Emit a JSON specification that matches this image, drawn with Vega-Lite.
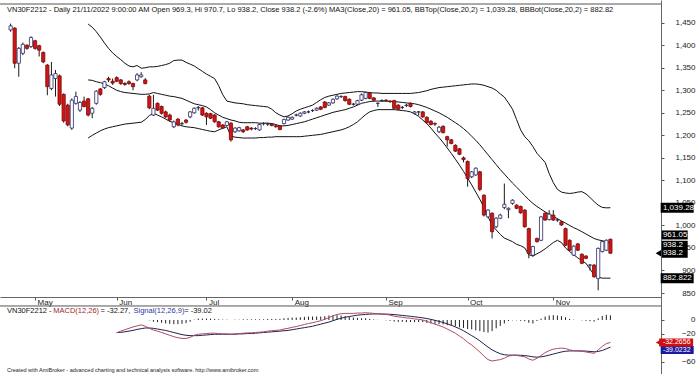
{
"$schema":"https://vega.github.io/schema/vega-lite/v6.json",
"width":661,"height":374,
"autosize":{"type":"none"},
"padding":{"left":0,"top":0,"right":39,"bottom":0},
"background":"white",
"config":{"view":{"stroke":null},"font":"Liberation Sans",
 "axis":{"labelFont":"Liberation Sans","labelFontSize":8,"labelColor":"#222222","tickColor":"#555555","tickSize":3,"domainColor":"#666666","grid":false,"labelOverlap":false,"labelFlush":false,"labelBound":false},
 "axisBottom":{"labelAlign":"left","labelBaseline":"top","labelOffset":2,"labelPadding":-2},
 "axisRight":{"labelAlign":"right","labelBaseline":"middle","labelPadding":31}},
"datasets":{
"ohlc":[
{"i":0,"o":1434,"h":1448,"l":1430,"c":1443},{"i":1,"o":1438,"h":1440,"l":1349,"c":1360},{"i":2,"o":1360,"h":1396,"l":1330,"c":1393},{"i":3,"o":1382,"h":1406,"l":1378,"c":1402},{"i":4,"o":1400,"h":1402,"l":1390,"c":1393},{"i":5,"o":1397,"h":1420,"l":1394,"c":1417},{"i":6,"o":1410,"h":1412,"l":1390,"c":1393},{"i":7,"o":1399,"h":1401,"l":1375,"c":1389},{"i":8,"o":1384,"h":1386,"l":1360,"c":1363},{"i":9,"o":1356,"h":1358,"l":1289,"c":1308},
{"i":10,"o":1304,"h":1363,"l":1300,"c":1334},{"i":11,"o":1326,"h":1345,"l":1286,"c":1337},{"i":12,"o":1332,"h":1335,"l":1265,"c":1269},{"i":13,"o":1291,"h":1293,"l":1228,"c":1232},{"i":14,"o":1267,"h":1270,"l":1220,"c":1223},{"i":15,"o":1216,"h":1282,"l":1212,"c":1278},{"i":16,"o":1271,"h":1297,"l":1268,"c":1286},{"i":17,"o":1256,"h":1276,"l":1252,"c":1273},{"i":18,"o":1276,"h":1286,"l":1262,"c":1264},{"i":19,"o":1281,"h":1283,"l":1242,"c":1245},
{"i":20,"o":1249,"h":1263,"l":1238,"c":1260},{"i":21,"o":1271,"h":1300,"l":1268,"c":1298},{"i":22,"o":1303,"h":1305,"l":1288,"c":1291},{"i":23,"o":1306,"h":1321,"l":1303,"c":1319},{"i":24,"o":1326,"h":1330,"l":1318,"c":1323},{"i":25,"o":1320,"h":1326,"l":1312,"c":1316},{"i":26,"o":1328,"h":1331,"l":1318,"c":1320},{"i":27,"o":1323,"h":1325,"l":1312,"c":1315},{"i":28,"o":1315,"h":1318,"l":1310,"c":1313},{"i":29,"o":1319,"h":1322,"l":1312,"c":1315},
{"i":30,"o":1315,"h":1317,"l":1300,"c":1308},{"i":31,"o":1323,"h":1338,"l":1320,"c":1334},{"i":32,"o":1330,"h":1340,"l":1328,"c":1334},{"i":33,"o":1323,"h":1327,"l":1313,"c":1315},{"i":34,"o":1287,"h":1290,"l":1258,"c":1261},{"i":35,"o":1245,"h":1290,"l":1243,"c":1260},{"i":36,"o":1271,"h":1273,"l":1254,"c":1256},{"i":37,"o":1264,"h":1266,"l":1246,"c":1249},{"i":38,"o":1252,"h":1255,"l":1238,"c":1241},{"i":39,"o":1245,"h":1248,"l":1231,"c":1234},
{"i":40,"o":1219,"h":1233,"l":1216,"c":1230},{"i":41,"o":1236,"h":1238,"l":1220,"c":1223},{"i":42,"o":1226,"h":1230,"l":1222,"c":1226},{"i":43,"o":1234,"h":1236,"l":1226,"c":1229},{"i":44,"o":1241,"h":1254,"l":1238,"c":1252},{"i":45,"o":1250,"h":1262,"l":1248,"c":1260},{"i":46,"o":1261,"h":1265,"l":1255,"c":1262},{"i":47,"o":1261,"h":1263,"l":1243,"c":1245},{"i":48,"o":1249,"h":1251,"l":1223,"c":1241},{"i":49,"o":1248,"h":1250,"l":1236,"c":1238},
{"i":50,"o":1245,"h":1247,"l":1228,"c":1230},{"i":51,"o":1230,"h":1232,"l":1217,"c":1219},{"i":52,"o":1223,"h":1225,"l":1214,"c":1216},{"i":53,"o":1222,"h":1232,"l":1220,"c":1230},{"i":54,"o":1227,"h":1229,"l":1186,"c":1190},{"i":55,"o":1208,"h":1218,"l":1205,"c":1216},{"i":56,"o":1210,"h":1219,"l":1208,"c":1217},{"i":57,"o":1212,"h":1214,"l":1205,"c":1208},{"i":58,"o":1219,"h":1221,"l":1210,"c":1212},{"i":59,"o":1216,"h":1218,"l":1211,"c":1214},
{"i":60,"o":1215,"h":1218,"l":1212,"c":1215},{"i":61,"o":1212,"h":1226,"l":1210,"c":1224},{"i":62,"o":1226,"h":1229,"l":1222,"c":1226},{"i":63,"o":1225,"h":1228,"l":1221,"c":1225},{"i":64,"o":1225,"h":1227,"l":1220,"c":1222},{"i":65,"o":1221,"h":1223,"l":1217,"c":1219},{"i":66,"o":1221,"h":1223,"l":1211,"c":1213},{"i":67,"o":1226,"h":1237,"l":1224,"c":1235},{"i":68,"o":1234,"h":1242,"l":1232,"c":1240},{"i":69,"o":1236,"h":1242,"l":1234,"c":1240},
{"i":70,"o":1245,"h":1248,"l":1242,"c":1245},{"i":71,"o":1243,"h":1251,"l":1241,"c":1249},{"i":72,"o":1249,"h":1254,"l":1247,"c":1252},{"i":73,"o":1252,"h":1255,"l":1249,"c":1252},{"i":74,"o":1255,"h":1258,"l":1252,"c":1255},{"i":75,"o":1256,"h":1262,"l":1254,"c":1260},{"i":76,"o":1263,"h":1265,"l":1256,"c":1258},{"i":77,"o":1274,"h":1276,"l":1260,"c":1262},{"i":78,"o":1267,"h":1274,"l":1265,"c":1272},{"i":79,"o":1272,"h":1282,"l":1270,"c":1280},
{"i":80,"o":1281,"h":1289,"l":1279,"c":1287},{"i":81,"o":1286,"h":1289,"l":1283,"c":1286},{"i":82,"o":1286,"h":1288,"l":1275,"c":1277},{"i":83,"o":1280,"h":1282,"l":1267,"c":1269},{"i":84,"o":1269,"h":1272,"l":1266,"c":1269},{"i":85,"o":1269,"h":1279,"l":1267,"c":1277},{"i":86,"o":1278,"h":1293,"l":1276,"c":1290},{"i":87,"o":1282,"h":1297,"l":1280,"c":1295},{"i":88,"o":1293,"h":1295,"l":1280,"c":1282},{"i":89,"o":1283,"h":1285,"l":1275,"c":1278},
{"i":90,"o":1271,"h":1273,"l":1263,"c":1271},{"i":91,"o":1277,"h":1280,"l":1274,"c":1277},{"i":92,"o":1278,"h":1280,"l":1275,"c":1277},{"i":93,"o":1276,"h":1278,"l":1272,"c":1275},{"i":94,"o":1277,"h":1279,"l":1258,"c":1260},{"i":95,"o":1267,"h":1269,"l":1256,"c":1258},{"i":96,"o":1262,"h":1265,"l":1258,"c":1262},{"i":97,"o":1266,"h":1270,"l":1263,"c":1267},{"i":98,"o":1271,"h":1273,"l":1262,"c":1264},{"i":99,"o":1249,"h":1254,"l":1246,"c":1252},
{"i":100,"o":1252,"h":1254,"l":1244,"c":1252},{"i":101,"o":1252,"h":1254,"l":1239,"c":1241},{"i":102,"o":1240,"h":1242,"l":1226,"c":1228},{"i":103,"o":1231,"h":1234,"l":1222,"c":1224},{"i":104,"o":1226,"h":1229,"l":1221,"c":1225},{"i":105,"o":1208,"h":1221,"l":1205,"c":1218},{"i":106,"o":1220,"h":1222,"l":1204,"c":1206},{"i":107,"o":1197,"h":1199,"l":1175,"c":1190},{"i":108,"o":1190,"h":1192,"l":1180,"c":1182},{"i":109,"o":1178,"h":1180,"l":1163,"c":1165},
{"i":110,"o":1170,"h":1172,"l":1156,"c":1158},{"i":111,"o":1150,"h":1153,"l":1140,"c":1146},{"i":112,"o":1142,"h":1144,"l":1086,"c":1104},{"i":113,"o":1108,"h":1121,"l":1105,"c":1119},{"i":114,"o":1112,"h":1129,"l":1110,"c":1127},{"i":115,"o":1119,"h":1121,"l":1076,"c":1080},{"i":116,"o":1067,"h":1069,"l":1020,"c":1023},{"i":117,"o":1019,"h":1036,"l":1016,"c":1034},{"i":118,"o":1027,"h":1029,"l":971,"c":986},{"i":119,"o":997,"h":1018,"l":994,"c":1016},
{"i":120,"o":1016,"h":1026,"l":1014,"c":1023},{"i":121,"o":1040,"h":1093,"l":1036,"c":1047},{"i":122,"o":1035,"h":1040,"l":1016,"c":1038},{"i":123,"o":1049,"h":1058,"l":1046,"c":1056},{"i":124,"o":1045,"h":1047,"l":1036,"c":1038},{"i":125,"o":1042,"h":1044,"l":1026,"c":1028},{"i":126,"o":1034,"h":1036,"l":995,"c":997},{"i":127,"o":993,"h":995,"l":927,"c":938},{"i":128,"o":934,"h":955,"l":931,"c":953},{"i":129,"o":971,"h":973,"l":962,"c":964},
{"i":130,"o":967,"h":1021,"l":965,"c":1019},{"i":131,"o":1027,"h":1029,"l":1010,"c":1012},{"i":132,"o":1013,"h":1034,"l":1011,"c":1025},{"i":133,"o":1023,"h":1034,"l":1010,"c":1012},{"i":134,"o":1012,"h":1015,"l":1008,"c":1012},{"i":135,"o":1008,"h":1010,"l":999,"c":1001},{"i":136,"o":993,"h":995,"l":954,"c":956},{"i":137,"o":967,"h":969,"l":943,"c":945},{"i":138,"o":934,"h":956,"l":932,"c":954},{"i":139,"o":959,"h":961,"l":943,"c":945},
{"i":140,"o":936,"h":938,"l":914,"c":916},{"i":141,"o":932,"h":934,"l":925,"c":927},{"i":142,"o":912,"h":914,"l":900,"c":912},{"i":143,"o":912,"h":914,"l":884,"c":886},{"i":144,"o":882,"h":951,"l":856,"c":949},{"i":145,"o":942,"h":966,"l":940,"c":964},{"i":146,"o":945,"h":969,"l":943,"c":967},{"i":147,"o":969.3,"h":970.7,"l":938.2,"c":938.2}
],
"bb":[
{"i":19,"t":1447,"m":1323,"b":1194},{"i":20,"t":1440,"m":1322,"b":1200},{"i":21,"t":1430,"m":1319,"b":1205},{"i":22,"t":1418,"m":1317,"b":1210},{"i":23,"t":1405,"m":1314,"b":1214},{"i":24,"t":1393,"m":1310,"b":1217},{"i":25,"t":1383,"m":1305,"b":1219},{"i":26,"t":1375,"m":1300,"b":1221},{"i":27,"t":1368,"m":1297,"b":1223},{"i":28,"t":1360,"m":1295,"b":1225},{"i":29,"t":1354,"m":1294,"b":1226},
{"i":30,"t":1352,"m":1293,"b":1227},{"i":31,"t":1355,"m":1292,"b":1228},{"i":32,"t":1349,"m":1291,"b":1229},{"i":33,"t":1350,"m":1291,"b":1235},{"i":34,"t":1352,"m":1292,"b":1244},{"i":35,"t":1352,"m":1295,"b":1249},{"i":36,"t":1353,"m":1293,"b":1245},{"i":37,"t":1355,"m":1291,"b":1241},{"i":38,"t":1357,"m":1289,"b":1236},{"i":39,"t":1360,"m":1287,"b":1231},
{"i":40,"t":1366,"m":1286,"b":1228},{"i":41,"t":1367,"m":1284,"b":1224},{"i":42,"t":1367,"m":1282,"b":1221},{"i":43,"t":1362,"m":1278,"b":1219},{"i":44,"t":1358,"m":1274,"b":1218},{"i":45,"t":1354,"m":1270,"b":1217},{"i":46,"t":1348,"m":1268,"b":1215},{"i":47,"t":1342,"m":1266,"b":1213},{"i":48,"t":1336,"m":1263,"b":1211},{"i":49,"t":1331,"m":1257,"b":1209},
{"i":50,"t":1326,"m":1250,"b":1208},{"i":51,"t":1310,"m":1245,"b":1212},{"i":52,"t":1290,"m":1240,"b":1216},{"i":53,"t":1276,"m":1237,"b":1219},{"i":54,"t":1274,"m":1234,"b":1198},{"i":55,"t":1272,"m":1232,"b":1196},{"i":56,"t":1271,"m":1229,"b":1195},{"i":57,"t":1270,"m":1228,"b":1194},{"i":58,"t":1268,"m":1228,"b":1194},{"i":59,"t":1267,"m":1228,"b":1194},
{"i":60,"t":1266,"m":1228,"b":1194},{"i":61,"t":1265,"m":1227,"b":1195},{"i":62,"t":1264,"m":1227,"b":1195},{"i":63,"t":1263,"m":1227,"b":1196},{"i":64,"t":1258,"m":1226,"b":1196},{"i":65,"t":1250,"m":1224,"b":1197},{"i":66,"t":1245,"m":1221,"b":1197},{"i":67,"t":1241,"m":1221,"b":1197},{"i":68,"t":1243,"m":1222,"b":1197},{"i":69,"t":1248,"m":1224,"b":1197},
{"i":70,"t":1254,"m":1226,"b":1197},{"i":71,"t":1258,"m":1228,"b":1197},{"i":72,"t":1261,"m":1230,"b":1198},{"i":73,"t":1264,"m":1233,"b":1199},{"i":74,"t":1267,"m":1236,"b":1200},{"i":75,"t":1273,"m":1239,"b":1201},{"i":76,"t":1279,"m":1242,"b":1202},{"i":77,"t":1284,"m":1245,"b":1204},{"i":78,"t":1287,"m":1248,"b":1206},{"i":79,"t":1289,"m":1251,"b":1208},
{"i":80,"t":1291,"m":1253,"b":1210},{"i":81,"t":1293,"m":1255,"b":1212},{"i":82,"t":1294,"m":1257,"b":1215},{"i":83,"t":1295,"m":1260,"b":1219},{"i":84,"t":1296,"m":1263,"b":1224},{"i":85,"t":1297,"m":1267,"b":1230},{"i":86,"t":1297,"m":1271,"b":1238},{"i":87,"t":1296,"m":1273,"b":1246},{"i":88,"t":1295,"m":1275,"b":1252},{"i":89,"t":1294,"m":1276,"b":1255},
{"i":90,"t":1294,"m":1276,"b":1257},{"i":91,"t":1293,"m":1276,"b":1257},{"i":92,"t":1293,"m":1276,"b":1257},{"i":93,"t":1293,"m":1275,"b":1257},{"i":94,"t":1293,"m":1275,"b":1257},{"i":95,"t":1293,"m":1274,"b":1256},{"i":96,"t":1293,"m":1273,"b":1255},{"i":97,"t":1293,"m":1272,"b":1254},{"i":98,"t":1293,"m":1271,"b":1252},{"i":99,"t":1294,"m":1270,"b":1248},
{"i":100,"t":1295,"m":1268,"b":1242},{"i":101,"t":1297,"m":1265,"b":1234},{"i":102,"t":1299,"m":1262,"b":1226},{"i":103,"t":1302,"m":1258,"b":1216},{"i":104,"t":1304,"m":1254,"b":1205},{"i":105,"t":1306,"m":1250,"b":1195},{"i":106,"t":1307,"m":1245,"b":1184},{"i":107,"t":1308,"m":1240,"b":1172},{"i":108,"t":1309,"m":1234,"b":1160},{"i":109,"t":1310,"m":1228,"b":1147},
{"i":110,"t":1311,"m":1222,"b":1134},{"i":111,"t":1312,"m":1215,"b":1120},{"i":112,"t":1313,"m":1207,"b":1105},{"i":113,"t":1314,"m":1198,"b":1090},{"i":114,"t":1314,"m":1189,"b":1074},{"i":115,"t":1313,"m":1179,"b":1058},{"i":116,"t":1311,"m":1168,"b":1040},{"i":117,"t":1308,"m":1157,"b":1020},{"i":118,"t":1305,"m":1146,"b":1000},{"i":119,"t":1300,"m":1135,"b":990},
{"i":120,"t":1292,"m":1124,"b":980},{"i":121,"t":1285,"m":1114,"b":972},{"i":122,"t":1272,"m":1104,"b":968},{"i":123,"t":1258,"m":1094,"b":964},{"i":124,"t":1235,"m":1085,"b":958},{"i":125,"t":1212,"m":1076,"b":955},{"i":126,"t":1197,"m":1066,"b":950},{"i":127,"t":1188,"m":1057,"b":935},{"i":128,"t":1175,"m":1049,"b":932},{"i":129,"t":1160,"m":1042,"b":937},
{"i":130,"t":1150,"m":1036,"b":942},{"i":131,"t":1140,"m":1030,"b":948},{"i":132,"t":1115,"m":1025,"b":955},{"i":133,"t":1095,"m":1020,"b":962},{"i":134,"t":1080,"m":1015,"b":967},{"i":135,"t":1074,"m":1010,"b":962},{"i":136,"t":1072,"m":1005,"b":950},{"i":137,"t":1071,"m":1000,"b":942},{"i":138,"t":1072,"m":995,"b":935},{"i":139,"t":1074,"m":991,"b":928},
{"i":140,"t":1075,"m":986,"b":922},{"i":141,"t":1070,"m":981,"b":916},{"i":142,"t":1062,"m":976,"b":903},{"i":143,"t":1053,"m":971,"b":890},{"i":144,"t":1045,"m":968,"b":885},{"i":145,"t":1040,"m":966,"b":883},{"i":146,"t":1039,"m":964,"b":883},{"i":147,"t":1039.28,"m":961.05,"b":882.82}
],
"macd":[
{"i":26,"md":-18.5,"sg":-18},{"i":27,"md":-16,"sg":-17.8},{"i":28,"md":-14,"sg":-17},{"i":29,"md":-12,"sg":-16},{"i":30,"md":-10,"sg":-15},{"i":31,"md":-8.5,"sg":-13.5},{"i":32,"md":-7,"sg":-12.5},{"i":33,"md":-9,"sg":-11.5},{"i":34,"md":-12,"sg":-11.5,"hs":-0.5},{"i":35,"md":-14.5,"sg":-12,"hs":-2.5},
{"i":36,"md":-16,"sg":-13,"hs":-3},{"i":37,"md":-18,"sg":-14,"hs":-4},{"i":38,"md":-20,"sg":-15,"hs":-5},{"i":39,"md":-22,"sg":-16.5,"hs":-5.5},{"i":40,"md":-24,"sg":-18,"hs":-6},{"i":41,"md":-25.5,"sg":-19.5,"hs":-6},{"i":42,"md":-26.5,"sg":-21,"hs":-5.5},{"i":43,"md":-26.5,"sg":-22,"hs":-4.5},{"i":44,"md":-25,"sg":-22.5,"hs":-2.5},{"i":45,"md":-22,"sg":-22.5,"hs":0.5},
{"i":46,"md":-20.5,"sg":-22.5,"hs":2},{"i":47,"md":-20,"sg":-22,"hs":2},{"i":48,"md":-19.5,"sg":-21.5,"hs":2},{"i":49,"md":-19,"sg":-21,"hs":2},{"i":50,"md":-19,"sg":-20.5,"hs":1.5},{"i":51,"md":-19.5,"sg":-20.5,"hs":1},{"i":52,"md":-20,"sg":-20.5,"hs":0.5},{"i":53,"md":-20,"sg":-20.5,"hs":0.5},{"i":54,"md":-20.5,"sg":-20.5,"hs":0},{"i":55,"md":-20,"sg":-20.5,"hs":0.5},
{"i":56,"md":-19.5,"sg":-20,"hs":0.5},{"i":57,"md":-19,"sg":-20,"hs":1},{"i":58,"md":-18.5,"sg":-19.5,"hs":1},{"i":59,"md":-18.5,"sg":-19.5,"hs":1},{"i":60,"md":-18,"sg":-19,"hs":1},{"i":61,"md":-17.5,"sg":-18.5,"hs":1},{"i":62,"md":-17,"sg":-18,"hs":1},{"i":63,"md":-16,"sg":-17.5,"hs":1.5},{"i":64,"md":-15.5,"sg":-17,"hs":1.5},{"i":65,"md":-15,"sg":-16.5,"hs":1.5},
{"i":66,"md":-14.5,"sg":-16,"hs":1.5},{"i":67,"md":-13,"sg":-15.5,"hs":2.5},{"i":68,"md":-12,"sg":-15,"hs":3},{"i":69,"md":-10.5,"sg":-14,"hs":3.5},{"i":70,"md":-9.5,"sg":-13,"hs":3.5},{"i":71,"md":-8,"sg":-12,"hs":4},{"i":72,"md":-6.5,"sg":-11,"hs":4.5},{"i":73,"md":-5,"sg":-10,"hs":5},{"i":74,"md":-4,"sg":-9,"hs":5},{"i":75,"md":-2.5,"sg":-7.5,"hs":5},
{"i":76,"md":-1,"sg":-6,"hs":5},{"i":77,"md":1,"sg":-4.5,"hs":5.5},{"i":78,"md":3.5,"sg":-3,"hs":6.5},{"i":79,"md":6,"sg":-1,"hs":7},{"i":80,"md":8,"sg":1,"hs":7},{"i":81,"md":9,"sg":2.5,"hs":6.5},{"i":82,"md":9.5,"sg":4,"hs":5.5},{"i":83,"md":9.5,"sg":5,"hs":4.5},{"i":84,"md":9.5,"sg":6,"hs":3.5},{"i":85,"md":10,"sg":7,"hs":3},
{"i":86,"md":10,"sg":7.5,"hs":2.5},{"i":87,"md":10.5,"sg":8,"hs":2.5},{"i":88,"md":10,"sg":8.5,"hs":1.5},{"i":89,"md":9.5,"sg":8.7,"hs":0.8},{"i":90,"md":9,"sg":8.7,"hs":0.3},{"i":91,"md":8.5,"sg":8.6,"hs":-0.1},{"i":92,"md":8,"sg":8.5,"hs":-0.5},{"i":93,"md":7,"sg":8.2,"hs":-1.2},{"i":94,"md":5.5,"sg":7.8,"hs":-2.3},{"i":95,"md":4.5,"sg":7.2,"hs":-2.7},
{"i":96,"md":4,"sg":6.6,"hs":-2.6},{"i":97,"md":3,"sg":6,"hs":-3},{"i":98,"md":2.5,"sg":5.3,"hs":-2.8},{"i":99,"md":1.5,"sg":4.6,"hs":-3.1},{"i":100,"md":1,"sg":3.9,"hs":-2.9},{"i":101,"md":0,"sg":3.1,"hs":-3.1},{"i":102,"md":-2,"sg":2.1,"hs":-4.1},{"i":103,"md":-4,"sg":0.9,"hs":-4.9},{"i":104,"md":-6,"sg":-0.5,"hs":-5.5},{"i":105,"md":-8,"sg":-2,"hs":-6},
{"i":106,"md":-10,"sg":-3.6,"hs":-6.4},{"i":107,"md":-13,"sg":-5.5,"hs":-7.5},{"i":108,"md":-16,"sg":-7.6,"hs":-8.4},{"i":109,"md":-19,"sg":-10,"hs":-9},{"i":110,"md":-23,"sg":-12.5,"hs":-10.5},{"i":111,"md":-27,"sg":-15.5,"hs":-11.5},{"i":112,"md":-32,"sg":-19,"hs":-13},{"i":113,"md":-36,"sg":-22.5,"hs":-13.5},{"i":114,"md":-41,"sg":-26,"hs":-15},{"i":115,"md":-46,"sg":-30,"hs":-16},
{"i":116,"md":-52,"sg":-34.5,"hs":-17.5},{"i":117,"md":-57,"sg":-39,"hs":-18},{"i":118,"md":-59,"sg":-43,"hs":-16},{"i":119,"md":-58,"sg":-46,"hs":-12},{"i":120,"md":-57,"sg":-48.5,"hs":-8.5},{"i":121,"md":-55,"sg":-50,"hs":-5},{"i":122,"md":-52,"sg":-50.5,"hs":-1.5},{"i":123,"md":-51,"sg":-50.5,"hs":-0.5},{"i":124,"md":-51,"sg":-50.5,"hs":-0.5},{"i":125,"md":-52,"sg":-50.8,"hs":-1.2},
{"i":126,"md":-53,"sg":-51.2,"hs":-1.8},{"i":127,"md":-56,"sg":-52,"hs":-4},{"i":128,"md":-58,"sg":-53,"hs":-5},{"i":129,"md":-55,"sg":-53.5,"hs":-1.5},{"i":130,"md":-51,"sg":-53,"hs":2},{"i":131,"md":-47,"sg":-52,"hs":5},{"i":132,"md":-44,"sg":-50.5,"hs":6.5},{"i":133,"md":-42,"sg":-49,"hs":7},{"i":134,"md":-41,"sg":-47.5,"hs":6.5},{"i":135,"md":-40.5,"sg":-46,"hs":5.5},
{"i":136,"md":-41,"sg":-45,"hs":4},{"i":137,"md":-43,"sg":-44.5,"hs":1.5},{"i":138,"md":-44,"sg":-44.5,"hs":0.5},{"i":139,"md":-44.5,"sg":-44.5,"hs":0},{"i":140,"md":-45,"sg":-44.5,"hs":-0.5},{"i":141,"md":-46,"sg":-44.8,"hs":-1.2},{"i":142,"md":-47,"sg":-45.2,"hs":-1.8},{"i":143,"md":-48,"sg":-45.8,"hs":-2.2},{"i":144,"md":-43,"sg":-45.3,"hs":2.3},{"i":145,"md":-38,"sg":-43.8,"hs":5.8},
{"i":146,"md":-34,"sg":-41.5,"hs":7.5},{"i":147,"md":-32.27,"sg":-39.02,"hs":6.75}
],
"tags":[
{"series":"BBTop","v":1039.28,"tag":"1,039.28"},{"series":"BBBot","v":882.822,"tag":"882.822"},{"series":"Close","v":938.2,"tag":"938.2"},{"series":"MA","v":961.05,"tag":"961.05"},{"series":"Lo","v":938.2,"tag":"938.2"}
],
"mtags":[
{"series":"MACD","v":-32.27,"tag":"-32.2656"},{"series":"Signal","v":-39.0232,"tag":"-39.0232"}
]
},
"layer":[
{"layer":[
{"data":{"name":"bb"},"mark":{"type":"line","color":"#111111","strokeWidth":1},
 "encoding":{"x":{"field":"i","type":"quantitative","scale":{"domain":[-1.376,158.17],"nice":false,"zero":false},"axis":{"values":[6,26,48,69,92,112,133],"labelExpr":"datum.value==6?'May':datum.value==26?'Jun':datum.value==48?'Jul':datum.value==69?'Aug':datum.value==92?'Sep':datum.value==112?'Oct':'Nov'","offset":-77,"title":null}},
 "y":{"field":"t","type":"quantitative","scale":{"domain":[670.2,1500.4],"nice":false,"zero":false},"axis":{"orient":"right","offset":0,"values":[850,900,950,1000,1050,1100,1150,1200,1250,1300,1350,1400,1450],"labelExpr":"format(datum.value, ',')","title":null}}}},
{"data":{"name":"bb"},"mark":{"type":"line","color":"#111111","strokeWidth":1},
 "encoding":{"x":{"field":"i","type":"quantitative","scale":{"domain":[-1.376,158.17],"nice":false,"zero":false},"axis":{"values":[6,26,48,69,92,112,133],"labelExpr":"datum.value==6?'May':datum.value==26?'Jun':datum.value==48?'Jul':datum.value==69?'Aug':datum.value==92?'Sep':datum.value==112?'Oct':'Nov'","offset":-77,"title":null}},
 "y":{"field":"m","type":"quantitative","scale":{"domain":[670.2,1500.4],"nice":false,"zero":false},"axis":{"orient":"right","offset":0,"values":[850,900,950,1000,1050,1100,1150,1200,1250,1300,1350,1400,1450],"labelExpr":"format(datum.value, ',')","title":null}}}},
{"data":{"name":"bb"},"mark":{"type":"line","color":"#111111","strokeWidth":1},
 "encoding":{"x":{"field":"i","type":"quantitative","scale":{"domain":[-1.376,158.17],"nice":false,"zero":false},"axis":{"values":[6,26,48,69,92,112,133],"labelExpr":"datum.value==6?'May':datum.value==26?'Jun':datum.value==48?'Jul':datum.value==69?'Aug':datum.value==92?'Sep':datum.value==112?'Oct':'Nov'","offset":-77,"title":null}},
 "y":{"field":"b","type":"quantitative","scale":{"domain":[670.2,1500.4],"nice":false,"zero":false},"axis":{"orient":"right","offset":0,"values":[850,900,950,1000,1050,1100,1150,1200,1250,1300,1350,1400,1450],"labelExpr":"format(datum.value, ',')","title":null}}}},
{"data":{"name":"ohlc"},"mark":{"type":"rule","color":"#1a1a1a","strokeWidth":1},
 "encoding":{"x":{"field":"i","type":"quantitative","scale":{"domain":[-1.376,158.17],"nice":false,"zero":false},"axis":{"values":[6,26,48,69,92,112,133],"labelExpr":"datum.value==6?'May':datum.value==26?'Jun':datum.value==48?'Jul':datum.value==69?'Aug':datum.value==92?'Sep':datum.value==112?'Oct':'Nov'","offset":-77,"title":null}},
 "y":{"field":"l","type":"quantitative","scale":{"domain":[670.2,1500.4],"nice":false,"zero":false},"axis":{"orient":"right","offset":0,"values":[850,900,950,1000,1050,1100,1150,1200,1250,1300,1350,1400,1450],"labelExpr":"format(datum.value, ',')","title":null}},"y2":{"field":"h"}}},
{"data":{"name":"ohlc"},"mark":{"type":"bar","width":3.2,"strokeWidth":0.8},
 "encoding":{"x":{"field":"i","type":"quantitative","scale":{"domain":[-1.376,158.17],"nice":false,"zero":false},"axis":{"values":[6,26,48,69,92,112,133],"labelExpr":"datum.value==6?'May':datum.value==26?'Jun':datum.value==48?'Jul':datum.value==69?'Aug':datum.value==92?'Sep':datum.value==112?'Oct':'Nov'","offset":-77,"title":null}},
 "y":{"field":"o","type":"quantitative","scale":{"domain":[670.2,1500.4],"nice":false,"zero":false},"axis":{"orient":"right","offset":0,"values":[850,900,950,1000,1050,1100,1150,1200,1250,1300,1350,1400,1450],"labelExpr":"format(datum.value, ',')","title":null}},"y2":{"field":"c"},
 "fill":{"condition":{"test":"datum.c < datum.o","value":"#d41414"},"value":"#ffffff"},
 "stroke":{"condition":{"test":"datum.c < datum.o","value":"#7a0a0a"},"value":"#2a2a66"}}},
{"data":{"values":[{}]},"mark":{"type":"rule","color":"#555555","strokeWidth":1},
 "encoding":{"y":{"datum":1491.5,"type":"quantitative","scale":{"domain":[670.2,1500.4],"nice":false,"zero":false},"axis":{"orient":"right","offset":0,"values":[850,900,950,1000,1050,1100,1150,1200,1250,1300,1350,1400,1450],"labelExpr":"format(datum.value, ',')","title":null}}}},
{"data":{"values":[{}]},"mark":{"type":"rule","color":"#555555","strokeWidth":1},
 "encoding":{"y":{"datum":821.2,"type":"quantitative","scale":{"domain":[670.2,1500.4],"nice":false,"zero":false},"axis":{"orient":"right","offset":0,"values":[850,900,950,1000,1050,1100,1150,1200,1250,1300,1350,1400,1450],"labelExpr":"format(datum.value, ',')","title":null}}}},
{"data":{"name":"tags"},"transform":[{"filter":"datum.series=='BBTop' || datum.series=='BBBot'"}],"mark":{"type":"tick","orient":"horizontal","size":33,"thickness":10,"color":"#000000","opacity":1},
 "encoding":{"x":{"datum":163.36,"type":"quantitative","scale":{"domain":[-1.376,158.17],"nice":false,"zero":false},"axis":{"values":[6,26,48,69,92,112,133],"labelExpr":"datum.value==6?'May':datum.value==26?'Jun':datum.value==48?'Jul':datum.value==69?'Aug':datum.value==92?'Sep':datum.value==112?'Oct':'Nov'","offset":-77,"title":null}},
 "y":{"field":"v","type":"quantitative","scale":{"domain":[670.2,1500.4],"nice":false,"zero":false},"axis":{"orient":"right","offset":0,"values":[850,900,950,1000,1050,1100,1150,1200,1250,1300,1350,1400,1450],"labelExpr":"format(datum.value, ',')","title":null}}}},
{"data":{"name":"tags"},"transform":[{"filter":"datum.series=='Close'"}],"mark":{"type":"tick","orient":"horizontal","size":26,"thickness":9,"color":"#000000","opacity":1},
 "encoding":{"x":{"datum":162.75,"type":"quantitative","scale":{"domain":[-1.376,158.17],"nice":false,"zero":false},"axis":{"values":[6,26,48,69,92,112,133],"labelExpr":"datum.value==6?'May':datum.value==26?'Jun':datum.value==48?'Jul':datum.value==69?'Aug':datum.value==92?'Sep':datum.value==112?'Oct':'Nov'","offset":-77,"title":null}},
 "y":{"field":"v","type":"quantitative","scale":{"domain":[670.2,1500.4],"nice":false,"zero":false},"axis":{"orient":"right","offset":0,"values":[850,900,950,1000,1050,1100,1150,1200,1250,1300,1350,1400,1450],"labelExpr":"format(datum.value, ',')","title":null}}}},
{"data":{"name":"tags"},"transform":[{"filter":"datum.series=='Close'"}],"mark":{"type":"point","shape":"triangle-left","size":40,"filled":true,"color":"#000000","opacity":1},
 "encoding":{"x":{"datum":158.75,"type":"quantitative","scale":{"domain":[-1.376,158.17],"nice":false,"zero":false},"axis":{"values":[6,26,48,69,92,112,133],"labelExpr":"datum.value==6?'May':datum.value==26?'Jun':datum.value==48?'Jul':datum.value==69?'Aug':datum.value==92?'Sep':datum.value==112?'Oct':'Nov'","offset":-77,"title":null}},
 "y":{"field":"v","type":"quantitative","scale":{"domain":[670.2,1500.4],"nice":false,"zero":false},"axis":{"orient":"right","offset":0,"values":[850,900,950,1000,1050,1100,1150,1200,1250,1300,1350,1400,1450],"labelExpr":"format(datum.value, ',')","title":null}}}},
{"data":{"name":"tags"},"transform":[{"filter":"datum.series=='MA' || datum.series=='Lo'"}],"mark":{"type":"tick","orient":"horizontal","size":26,"thickness":9,"color":"#000000","opacity":1,"yOffset":-8},
 "encoding":{"x":{"datum":162.75,"type":"quantitative","scale":{"domain":[-1.376,158.17],"nice":false,"zero":false},"axis":{"values":[6,26,48,69,92,112,133],"labelExpr":"datum.value==6?'May':datum.value==26?'Jun':datum.value==48?'Jul':datum.value==69?'Aug':datum.value==92?'Sep':datum.value==112?'Oct':'Nov'","offset":-77,"title":null}},
 "y":{"field":"v","type":"quantitative","scale":{"domain":[670.2,1500.4],"nice":false,"zero":false},"axis":{"orient":"right","offset":0,"values":[850,900,950,1000,1050,1100,1150,1200,1250,1300,1350,1400,1450],"labelExpr":"format(datum.value, ',')","title":null}}}},
{"data":{"name":"tags"},"transform":[{"filter":"datum.series!='MA' && datum.series!='Lo'"}],"mark":{"type":"text","align":"left","baseline":"middle","fontSize":8,"color":"#ffffff","font":"Liberation Sans"},
 "encoding":{"x":{"datum":159.86,"type":"quantitative","scale":{"domain":[-1.376,158.17],"nice":false,"zero":false},"axis":{"values":[6,26,48,69,92,112,133],"labelExpr":"datum.value==6?'May':datum.value==26?'Jun':datum.value==48?'Jul':datum.value==69?'Aug':datum.value==92?'Sep':datum.value==112?'Oct':'Nov'","offset":-77,"title":null}},
 "y":{"field":"v","type":"quantitative","scale":{"domain":[670.2,1500.4],"nice":false,"zero":false},"axis":{"orient":"right","offset":0,"values":[850,900,950,1000,1050,1100,1150,1200,1250,1300,1350,1400,1450],"labelExpr":"format(datum.value, ',')","title":null}},"text":{"field":"tag"}}},
{"data":{"name":"tags"},"transform":[{"filter":"datum.series=='MA' || datum.series=='Lo'"}],"mark":{"type":"text","align":"left","baseline":"middle","fontSize":8,"color":"#ffffff","font":"Liberation Sans","yOffset":-8},
 "encoding":{"x":{"datum":159.86,"type":"quantitative","scale":{"domain":[-1.376,158.17],"nice":false,"zero":false},"axis":{"values":[6,26,48,69,92,112,133],"labelExpr":"datum.value==6?'May':datum.value==26?'Jun':datum.value==48?'Jul':datum.value==69?'Aug':datum.value==92?'Sep':datum.value==112?'Oct':'Nov'","offset":-77,"title":null}},
 "y":{"field":"v","type":"quantitative","scale":{"domain":[670.2,1500.4],"nice":false,"zero":false},"axis":{"orient":"right","offset":0,"values":[850,900,950,1000,1050,1100,1150,1200,1250,1300,1350,1400,1450],"labelExpr":"format(datum.value, ',')","title":null}},"text":{"field":"tag"}}},
{"data":{"values":[{"t":"VN30F2212 - Daily 21/11/2022 9:00:00 AM Open 969.3, Hi 970.7, Lo 938.2, Close 938.2 (-2.6%) MA3(Close,20) = 961.05, BBTop(Close,20,2) = 1,039.28, BBBot(Close,20,2) = 882.82"}]},
 "mark":{"type":"text","align":"left","baseline":"middle","fontSize":7.5,"color":"#111111","font":"Liberation Sans"},
 "encoding":{"x":{"datum":-0.893,"type":"quantitative","scale":{"domain":[-1.376,158.17],"nice":false,"zero":false},"axis":{"values":[6,26,48,69,92,112,133],"labelExpr":"datum.value==6?'May':datum.value==26?'Jun':datum.value==48?'Jul':datum.value==69?'Aug':datum.value==92?'Sep':datum.value==112?'Oct':'Nov'","offset":-77,"title":null}},
 "y":{"datum":1478.2,"type":"quantitative","scale":{"domain":[670.2,1500.4],"nice":false,"zero":false},"axis":{"orient":"right","offset":0,"values":[850,900,950,1000,1050,1100,1150,1200,1250,1300,1350,1400,1450],"labelExpr":"format(datum.value, ',')","title":null}},"text":{"field":"t"}}},
{"data":{"values":[{"t":"VN30F2212 -"}]},"mark":{"type":"text","align":"left","baseline":"middle","fontSize":7.5,"color":"#111111","font":"Liberation Sans"},
 "encoding":{"x":{"datum":-0.893,"type":"quantitative","scale":{"domain":[-1.376,158.17],"nice":false,"zero":false},"axis":{"values":[6,26,48,69,92,112,133],"labelExpr":"datum.value==6?'May':datum.value==26?'Jun':datum.value==48?'Jul':datum.value==69?'Aug':datum.value==92?'Sep':datum.value==112?'Oct':'Nov'","offset":-77,"title":null}},
 "y":{"datum":810,"type":"quantitative","scale":{"domain":[670.2,1500.4],"nice":false,"zero":false},"axis":{"orient":"right","offset":0,"values":[850,900,950,1000,1050,1100,1150,1200,1250,1300,1350,1400,1450],"labelExpr":"format(datum.value, ',')","title":null}},"text":{"field":"t"}}},
{"data":{"values":[{"t":"MACD(12,26)"}]},"mark":{"type":"text","align":"left","baseline":"middle","fontSize":7.5,"color":"#a02828","font":"Liberation Sans"},
 "encoding":{"x":{"datum":10.45,"type":"quantitative","scale":{"domain":[-1.376,158.17],"nice":false,"zero":false},"axis":{"values":[6,26,48,69,92,112,133],"labelExpr":"datum.value==6?'May':datum.value==26?'Jun':datum.value==48?'Jul':datum.value==69?'Aug':datum.value==92?'Sep':datum.value==112?'Oct':'Nov'","offset":-77,"title":null}},
 "y":{"datum":810,"type":"quantitative","scale":{"domain":[670.2,1500.4],"nice":false,"zero":false},"axis":{"orient":"right","offset":0,"values":[850,900,950,1000,1050,1100,1150,1200,1250,1300,1350,1400,1450],"labelExpr":"format(datum.value, ',')","title":null}},"text":{"field":"t"}}},
{"data":{"values":[{"t":"= -32.27,"}]},"mark":{"type":"text","align":"left","baseline":"middle","fontSize":7.5,"color":"#111111","font":"Liberation Sans"},
 "encoding":{"x":{"datum":22.04,"type":"quantitative","scale":{"domain":[-1.376,158.17],"nice":false,"zero":false},"axis":{"values":[6,26,48,69,92,112,133],"labelExpr":"datum.value==6?'May':datum.value==26?'Jun':datum.value==48?'Jul':datum.value==69?'Aug':datum.value==92?'Sep':datum.value==112?'Oct':'Nov'","offset":-77,"title":null}},
 "y":{"datum":810,"type":"quantitative","scale":{"domain":[670.2,1500.4],"nice":false,"zero":false},"axis":{"orient":"right","offset":0,"values":[850,900,950,1000,1050,1100,1150,1200,1250,1300,1350,1400,1450],"labelExpr":"format(datum.value, ',')","title":null}},"text":{"field":"t"}}},
{"data":{"values":[{"t":"Signal(12,26,9)"}]},"mark":{"type":"text","align":"left","baseline":"middle","fontSize":7.5,"color":"#2a3a9a","font":"Liberation Sans"},
 "encoding":{"x":{"datum":30.12,"type":"quantitative","scale":{"domain":[-1.376,158.17],"nice":false,"zero":false},"axis":{"values":[6,26,48,69,92,112,133],"labelExpr":"datum.value==6?'May':datum.value==26?'Jun':datum.value==48?'Jul':datum.value==69?'Aug':datum.value==92?'Sep':datum.value==112?'Oct':'Nov'","offset":-77,"title":null}},
 "y":{"datum":810,"type":"quantitative","scale":{"domain":[670.2,1500.4],"nice":false,"zero":false},"axis":{"orient":"right","offset":0,"values":[850,900,950,1000,1050,1100,1150,1200,1250,1300,1350,1400,1450],"labelExpr":"format(datum.value, ',')","title":null}},"text":{"field":"t"}}},
{"data":{"values":[{"t":"= -39.02"}]},"mark":{"type":"text","align":"left","baseline":"middle","fontSize":7.5,"color":"#111111","font":"Liberation Sans"},
 "encoding":{"x":{"datum":42.55,"type":"quantitative","scale":{"domain":[-1.376,158.17],"nice":false,"zero":false},"axis":{"values":[6,26,48,69,92,112,133],"labelExpr":"datum.value==6?'May':datum.value==26?'Jun':datum.value==48?'Jul':datum.value==69?'Aug':datum.value==92?'Sep':datum.value==112?'Oct':'Nov'","offset":-77,"title":null}},
 "y":{"datum":810,"type":"quantitative","scale":{"domain":[670.2,1500.4],"nice":false,"zero":false},"axis":{"orient":"right","offset":0,"values":[850,900,950,1000,1050,1100,1150,1200,1250,1300,1350,1400,1450],"labelExpr":"format(datum.value, ',')","title":null}},"text":{"field":"t"}}},
{"data":{"values":[{"t":"Created with AmiBroker - advanced charting and technical analysis software. http://www.amibroker.com"}]},"mark":{"type":"text","align":"left","baseline":"middle","fontSize":5.5,"color":"#222222","font":"Liberation Sans"},
 "encoding":{"x":{"datum":-0.893,"type":"quantitative","scale":{"domain":[-1.376,158.17],"nice":false,"zero":false},"axis":{"values":[6,26,48,69,92,112,133],"labelExpr":"datum.value==6?'May':datum.value==26?'Jun':datum.value==48?'Jul':datum.value==69?'Aug':datum.value==92?'Sep':datum.value==112?'Oct':'Nov'","offset":-77,"title":null}},
 "y":{"datum":679.1,"type":"quantitative","scale":{"domain":[670.2,1500.4],"nice":false,"zero":false},"axis":{"orient":"right","offset":0,"values":[850,900,950,1000,1050,1100,1150,1200,1250,1300,1350,1400,1450],"labelExpr":"format(datum.value, ',')","title":null}},"text":{"field":"t"}}}
]},
{"layer":[
{"data":{"name":"macd"},"mark":{"type":"rule","color":"#222222","strokeWidth":1},
 "encoding":{"x":{"field":"i","type":"quantitative","scale":{"domain":[-1.376,158.17],"nice":false,"zero":false},"axis":{"values":[6,26,48,69,92,112,133],"labelExpr":"datum.value==6?'May':datum.value==26?'Jun':datum.value==48?'Jul':datum.value==69?'Aug':datum.value==92?'Sep':datum.value==112?'Oct':'Nov'","offset":-77,"title":null}},
 "y":{"field":"hs","type":"quantitative","scale":{"domain":[-77.7,460.4],"nice":false,"zero":false},"axis":{"orient":"right","offset":0,"values":[0,-20,-40,-60],"labelExpr":"datum.value==-40?'':datum.label","domain":false,"title":null}},
 "y2":{"datum":0}}},
{"data":{"name":"macd"},"mark":{"type":"line","color":"#20204a","strokeWidth":1},
 "encoding":{"x":{"field":"i","type":"quantitative","scale":{"domain":[-1.376,158.17],"nice":false,"zero":false},"axis":{"values":[6,26,48,69,92,112,133],"labelExpr":"datum.value==6?'May':datum.value==26?'Jun':datum.value==48?'Jul':datum.value==69?'Aug':datum.value==92?'Sep':datum.value==112?'Oct':'Nov'","offset":-77,"title":null}},
 "y":{"field":"sg","type":"quantitative","scale":{"domain":[-77.7,460.4],"nice":false,"zero":false},"axis":{"orient":"right","offset":0,"values":[0,-20,-40,-60],"labelExpr":"datum.value==-40?'':datum.label","domain":false,"title":null}}}},
{"data":{"name":"macd"},"mark":{"type":"line","color":"#b04a64","strokeWidth":1},
 "encoding":{"x":{"field":"i","type":"quantitative","scale":{"domain":[-1.376,158.17],"nice":false,"zero":false},"axis":{"values":[6,26,48,69,92,112,133],"labelExpr":"datum.value==6?'May':datum.value==26?'Jun':datum.value==48?'Jul':datum.value==69?'Aug':datum.value==92?'Sep':datum.value==112?'Oct':'Nov'","offset":-77,"title":null}},
 "y":{"field":"md","type":"quantitative","scale":{"domain":[-77.7,460.4],"nice":false,"zero":false},"axis":{"orient":"right","offset":0,"values":[0,-20,-40,-60],"labelExpr":"datum.value==-40?'':datum.label","domain":false,"title":null}}}},
{"data":{"name":"mtags"},"transform":[{"filter":"datum.series=='Signal'"}],"mark":{"type":"tick","orient":"horizontal","size":33,"thickness":8,"color":"#1a1aa0","opacity":1,"yOffset":3},
 "encoding":{"x":{"datum":163.36,"type":"quantitative","scale":{"domain":[-1.376,158.17],"nice":false,"zero":false},"axis":{"values":[6,26,48,69,92,112,133],"labelExpr":"datum.value==6?'May':datum.value==26?'Jun':datum.value==48?'Jul':datum.value==69?'Aug':datum.value==92?'Sep':datum.value==112?'Oct':'Nov'","offset":-77,"title":null}},
 "y":{"field":"v","type":"quantitative","scale":{"domain":[-77.7,460.4],"nice":false,"zero":false},"axis":{"orient":"right","offset":0,"values":[0,-20,-40,-60],"labelExpr":"datum.value==-40?'':datum.label","domain":false,"title":null}}}},
{"data":{"name":"mtags"},"transform":[{"filter":"datum.series=='MACD'"}],"mark":{"type":"tick","orient":"horizontal","size":34,"thickness":8,"color":"#d01010","opacity":1},
 "encoding":{"x":{"datum":163.1,"type":"quantitative","scale":{"domain":[-1.376,158.17],"nice":false,"zero":false},"axis":{"values":[6,26,48,69,92,112,133],"labelExpr":"datum.value==6?'May':datum.value==26?'Jun':datum.value==48?'Jul':datum.value==69?'Aug':datum.value==92?'Sep':datum.value==112?'Oct':'Nov'","offset":-77,"title":null}},
 "y":{"field":"v","type":"quantitative","scale":{"domain":[-77.7,460.4],"nice":false,"zero":false},"axis":{"orient":"right","offset":0,"values":[0,-20,-40,-60],"labelExpr":"datum.value==-40?'':datum.label","domain":false,"title":null}}}},
{"data":{"name":"mtags"},"transform":[{"filter":"datum.series=='MACD'"}],"mark":{"type":"point","shape":"triangle-left","size":35,"filled":true,"color":"#d01010","opacity":1},
 "encoding":{"x":{"datum":158.75,"type":"quantitative","scale":{"domain":[-1.376,158.17],"nice":false,"zero":false},"axis":{"values":[6,26,48,69,92,112,133],"labelExpr":"datum.value==6?'May':datum.value==26?'Jun':datum.value==48?'Jul':datum.value==69?'Aug':datum.value==92?'Sep':datum.value==112?'Oct':'Nov'","offset":-77,"title":null}},
 "y":{"field":"v","type":"quantitative","scale":{"domain":[-77.7,460.4],"nice":false,"zero":false},"axis":{"orient":"right","offset":0,"values":[0,-20,-40,-60],"labelExpr":"datum.value==-40?'':datum.label","domain":false,"title":null}}}},
{"data":{"name":"mtags"},"transform":[{"filter":"datum.series=='MACD'"}],"mark":{"type":"text","align":"left","baseline":"middle","fontSize":7,"color":"#ffffff","font":"Liberation Sans"},
 "encoding":{"x":{"datum":159.86,"type":"quantitative","scale":{"domain":[-1.376,158.17],"nice":false,"zero":false},"axis":{"values":[6,26,48,69,92,112,133],"labelExpr":"datum.value==6?'May':datum.value==26?'Jun':datum.value==48?'Jul':datum.value==69?'Aug':datum.value==92?'Sep':datum.value==112?'Oct':'Nov'","offset":-77,"title":null}},
 "y":{"field":"v","type":"quantitative","scale":{"domain":[-77.7,460.4],"nice":false,"zero":false},"axis":{"orient":"right","offset":0,"values":[0,-20,-40,-60],"labelExpr":"datum.value==-40?'':datum.label","domain":false,"title":null}},"text":{"field":"tag"}}},
{"data":{"name":"mtags"},"transform":[{"filter":"datum.series=='Signal'"}],"mark":{"type":"text","align":"left","baseline":"middle","fontSize":7,"color":"#ffffff","font":"Liberation Sans","yOffset":3},
 "encoding":{"x":{"datum":159.86,"type":"quantitative","scale":{"domain":[-1.376,158.17],"nice":false,"zero":false},"axis":{"values":[6,26,48,69,92,112,133],"labelExpr":"datum.value==6?'May':datum.value==26?'Jun':datum.value==48?'Jul':datum.value==69?'Aug':datum.value==92?'Sep':datum.value==112?'Oct':'Nov'","offset":-77,"title":null}},
 "y":{"field":"v","type":"quantitative","scale":{"domain":[-77.7,460.4],"nice":false,"zero":false},"axis":{"orient":"right","offset":0,"values":[0,-20,-40,-60],"labelExpr":"datum.value==-40?'':datum.label","domain":false,"title":null}},"text":{"field":"tag"}}}
]}
],
"resolve":{"scale":{"y":"independent"},"axis":{"y":"independent"}}
}
